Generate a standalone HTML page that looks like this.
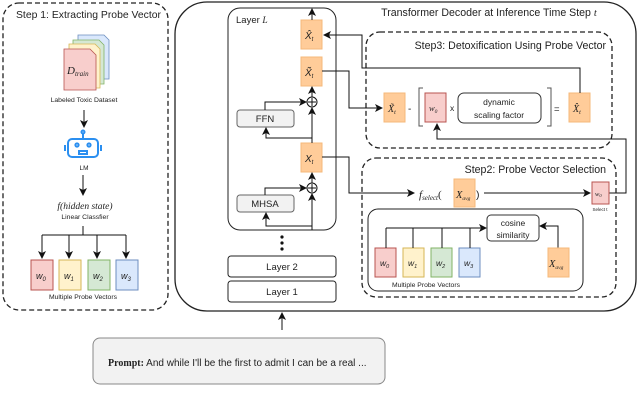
<!DOCTYPE html>
<html><head><meta charset="utf-8"><style>
body{margin:0;background:#fff}
svg{display:block}
text{font-family:"Liberation Sans",sans-serif;fill:#222}
.m{font-family:"Liberation Serif",serif;font-style:italic}
</style></head><body>
<svg width="640" height="402" viewBox="0 0 640 402" xmlns="http://www.w3.org/2000/svg">
<defs>
<marker id="a" markerWidth="8" markerHeight="8" refX="7" refY="4" orient="auto" markerUnits="userSpaceOnUse"><path d="M0,0 L8,4 L0,8 L2,4z" fill="#111"/></marker>
</defs>
<!-- Step 1 -->
<rect x="3" y="3" width="165" height="307" rx="16" fill="none" stroke="#222" stroke-width="1.3" stroke-dasharray="5,3"/>
<text x="16" y="18" font-size="10.4">Step 1: Extracting Probe Vector</text>
<path d="M78,35h26l5,5v39h-31z" fill="#dae8fc" stroke="#6c8ebf" stroke-width="0.8"/>
<path d="M73,40h26l5,5v39h-31z" fill="#d5e8d4" stroke="#82b366" stroke-width="0.8"/>
<path d="M69,44h26l5,5v39h-31z" fill="#fff2cc" stroke="#d6b656" stroke-width="0.8"/>
<path d="M64,49h26l6,6v35h-32z" fill="#f8cecc" stroke="#b85450" stroke-width="0.8"/>
<text x="67" y="74" class="m" font-size="11">D<tspan font-size="7" dy="2">train</tspan></text>
<text x="84" y="102" font-size="6.8" text-anchor="middle">Labeled Toxic Dataset</text>
<line x1="84" y1="110" x2="84" y2="127" stroke="#111" marker-end="url(#a)"/>
<g fill="none" stroke="#2b8ff0" stroke-width="2">
<rect x="68" y="139" width="30" height="18" rx="4"/>
<line x1="83" y1="133" x2="83" y2="139"/><circle cx="83" cy="132" r="1.5"/>
<circle cx="77" cy="145" r="1.6"/><circle cx="89" cy="145" r="1.6"/>
<rect x="79" y="151" width="8" height="3"/>
<line x1="65" y1="145" x2="65" y2="151"/><line x1="101" y1="145" x2="101" y2="151"/>
</g>
<text x="84" y="170" font-size="6.5" text-anchor="middle">LM</text>
<line x1="83" y1="175" x2="83" y2="195" stroke="#111" marker-end="url(#a)"/>
<text x="85" y="209" class="m" font-size="9.5" text-anchor="middle">f(hidden state)</text>
<text x="85" y="219" font-size="6.8" text-anchor="middle">Linear Classfier</text>
<path d="M83,226v9M42,235h84" stroke="#111" fill="none"/>
<line x1="42" y1="235" x2="42" y2="258" stroke="#111" marker-end="url(#a)"/>
<line x1="69" y1="235" x2="69" y2="258" stroke="#111" marker-end="url(#a)"/>
<line x1="97" y1="235" x2="97" y2="258" stroke="#111" marker-end="url(#a)"/>
<line x1="126" y1="235" x2="126" y2="258" stroke="#111" marker-end="url(#a)"/>
<rect x="31" y="260" width="22" height="30" fill="#f8cecc" stroke="#b85450"/>
<rect x="59" y="260" width="22" height="30" fill="#fff2cc" stroke="#d6b656"/>
<rect x="88" y="260" width="22" height="30" fill="#d5e8d4" stroke="#82b366"/>
<rect x="116" y="260" width="22" height="30" fill="#dae8fc" stroke="#6c8ebf"/>
<g class="m" font-size="9"><text x="36" y="279">w<tspan font-size="6" dy="2">0</tspan></text><text x="64" y="279">w<tspan font-size="6" dy="2">1</tspan></text><text x="93" y="279">w<tspan font-size="6" dy="2">2</tspan></text><text x="121" y="279">w<tspan font-size="6" dy="2">3</tspan></text></g>
<text x="83" y="299" font-size="6.8" text-anchor="middle">Multiple Probe Vectors</text>

<!-- Main box -->
<rect x="175" y="2" width="461" height="309" rx="32" fill="none" stroke="#222" stroke-width="1.3"/>
<text x="489" y="16" font-size="10.6" text-anchor="middle">Transformer Decoder at Inference Time Step <tspan class="m">t</tspan></text>
<rect x="228" y="8" width="108" height="222" rx="12" fill="none" stroke="#222"/>
<text x="236" y="23" font-size="9.5">Layer <tspan class="m">L</tspan></text>
<g fill="#ffcc99" stroke="#f5b87a">
<rect x="301" y="20" width="21" height="29"/><rect x="301" y="57" width="21" height="29"/><rect x="301" y="143" width="21" height="29"/>
</g>
<g class="m" font-size="10"><text x="305" y="39">X̂<tspan font-size="6" dy="2">t</tspan></text><text x="305" y="76">X̃<tspan font-size="6" dy="2">t</tspan></text><text x="305" y="162">X<tspan font-size="6" dy="2">t</tspan></text></g>
<line x1="312" y1="20" x2="312" y2="9" stroke="#111" marker-end="url(#a)"/>
<rect x="237" y="110" width="57" height="17" rx="3" fill="#f2f2f2" stroke="#666"/>
<text x="265" y="122" font-size="9.5" text-anchor="middle">FFN</text>
<rect x="237" y="195" width="57" height="17" rx="3" fill="#f2f2f2" stroke="#666"/>
<text x="265" y="207" font-size="9.5" text-anchor="middle">MHSA</text>
<circle cx="312" cy="102" r="5" fill="#fff" stroke="#111"/><path d="M308,102h8M312,98v8" stroke="#111"/>
<circle cx="312" cy="188" r="5" fill="#fff" stroke="#111"/><path d="M308,188h8M312,184v8" stroke="#111"/>
<g stroke="#111" fill="none">
<line x1="312" y1="97" x2="312" y2="87" marker-end="url(#a)"/>
<line x1="312" y1="143" x2="312" y2="108" marker-end="url(#a)"/>
<line x1="312" y1="183" x2="312" y2="173" marker-end="url(#a)"/>
<line x1="312" y1="230" x2="312" y2="194" marker-end="url(#a)"/>
<path d="M265,110v-8h41" marker-end="url(#a)"/>
<path d="M265,195v-7h41" marker-end="url(#a)"/>
<path d="M312,138h-46v-10" marker-end="url(#a)"/>
<path d="M312,226h-46v-13" marker-end="url(#a)"/>
</g>
<circle cx="282" cy="237" r="1.6" fill="#111"/><circle cx="282" cy="243" r="1.6" fill="#111"/><circle cx="282" cy="249" r="1.6" fill="#111"/>
<rect x="228" y="256" width="108" height="21" rx="3" fill="none" stroke="#222"/>
<text x="282" y="270" font-size="9.5" text-anchor="middle">Layer 2</text>
<rect x="228" y="281" width="108" height="21" rx="3" fill="none" stroke="#222"/>
<text x="282" y="295" font-size="9.5" text-anchor="middle">Layer 1</text>
<line x1="282" y1="330" x2="282" y2="313" stroke="#111" marker-end="url(#a)"/>

<!-- Step 3 -->
<rect x="366" y="32" width="246" height="116" rx="14" fill="none" stroke="#222" stroke-width="1.3" stroke-dasharray="5,3"/>
<text x="606" y="49" font-size="10.6" text-anchor="end">Step3: Detoxification Using Probe Vector</text>
<rect x="384" y="93" width="21" height="29" fill="#ffcc99" stroke="#f5b87a"/>
<text x="388" y="112" class="m" font-size="10">X̃<tspan font-size="6" dy="2">t</tspan></text>
<text x="408" y="112" font-size="10">-</text>
<path d="M423,88h-4v38h4M547,88h4v38h-4" stroke="#555" fill="none"/>
<rect x="425" y="93" width="21" height="29" fill="#f8cecc" stroke="#b85450"/>
<text x="429" y="111" class="m" font-size="8.5">w<tspan font-size="5.5" dy="2">0</tspan></text>
<text x="450" y="111" font-size="8.5">x</text>
<rect x="458" y="93" width="83" height="30" rx="6" fill="#fff" stroke="#333"/>
<text x="499" y="105" font-size="8.5" text-anchor="middle">dynamic</text>
<text x="499" y="118" font-size="8.5" text-anchor="middle">scaling factor</text>
<text x="554" y="112" font-size="9.5">=</text>
<rect x="569" y="93" width="21" height="29" fill="#ffcc99" stroke="#f5b87a"/>
<text x="573" y="112" class="m" font-size="10">X̂<tspan font-size="6" dy="2">t</tspan></text>
<g stroke="#111" fill="none">
<path d="M580,93v-25h-218v-33h-38" marker-end="url(#a)"/>
<path d="M322,71h27v37h33" marker-end="url(#a)"/>
<path d="M322,157h27v36h65" marker-end="url(#a)"/>
<path d="M609,193h17v-54h-189v-15" marker-end="url(#a)"/>
</g>

<!-- Step 2 -->
<rect x="362" y="158" width="254" height="139" rx="14" fill="none" stroke="#222" stroke-width="1.3" stroke-dasharray="5,3"/>
<text x="606" y="173" font-size="10.6" text-anchor="end">Step2: Probe Vector Selection</text>
<text x="419" y="198" class="m" font-size="11">f<tspan font-size="7" dy="2">select</tspan><tspan dy="-2" font-style="normal">(</tspan></text>
<rect x="454" y="179" width="21" height="28" fill="#ffcc99" stroke="#f5b87a"/>
<text x="456" y="198" class="m" font-size="10.5">X<tspan font-size="5.5" dy="2">avg</tspan></text>
<text x="476" y="198" font-size="10.5">)</text>
<line x1="484" y1="193" x2="590" y2="193" stroke="#111" marker-end="url(#a)"/>
<rect x="592" y="182" width="17" height="22" fill="#f8cecc" stroke="#b85450"/>
<text x="595" y="196" class="m" font-size="6.5">w<tspan font-size="4.5" dy="1">0</tspan></text>
<text x="600" y="211" font-size="4.5" text-anchor="middle">Select t</text>
<rect x="368" y="209" width="215" height="82" rx="10" fill="none" stroke="#222"/>
<rect x="375" y="248" width="21" height="29" fill="#f8cecc" stroke="#b85450"/>
<rect x="403" y="248" width="21" height="29" fill="#fff2cc" stroke="#d6b656"/>
<rect x="431" y="248" width="21" height="29" fill="#d5e8d4" stroke="#82b366"/>
<rect x="459" y="248" width="21" height="29" fill="#dae8fc" stroke="#6c8ebf"/>
<g class="m" font-size="8.5"><text x="380" y="266">w<tspan font-size="5.5" dy="2">0</tspan></text><text x="408" y="266">w<tspan font-size="5.5" dy="2">1</tspan></text><text x="436" y="266">w<tspan font-size="5.5" dy="2">2</tspan></text><text x="464" y="266">w<tspan font-size="5.5" dy="2">3</tspan></text></g>
<text x="426" y="287" font-size="6.8" text-anchor="middle">Multiple Probe Vectors</text>
<g stroke="#111" fill="none">
<path d="M386,248v-20M413,248v-20M442,248v-20M470,248v-20"/>
<path d="M386,228h100" marker-end="url(#a)"/>
<path d="M558,248v-22h-18" marker-end="url(#a)"/>
</g>
<rect x="487" y="215" width="52" height="26" rx="4" fill="#fff" stroke="#333"/>
<text x="513" y="226" font-size="8.5" text-anchor="middle">cosine</text>
<text x="513" y="238" font-size="8.5" text-anchor="middle">similarity</text>
<rect x="548" y="248" width="21" height="29" fill="#ffcc99" stroke="#f5b87a"/>
<text x="549" y="267" class="m" font-size="10.5">X<tspan font-size="5.5" dy="2">avg</tspan></text>

<!-- Prompt -->
<rect x="93" y="338" width="292" height="46" rx="7" fill="#f2f2f2" stroke="#888"/>
<text x="108" y="366" font-size="10"><tspan font-family="Liberation Serif" font-weight="bold">Prompt:</tspan> And while I'll be the first to admit I can be a real ...</text>
</svg>
</body></html>
